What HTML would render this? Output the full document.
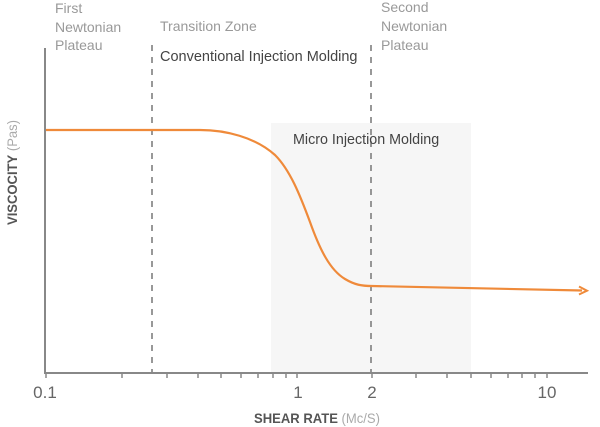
<!DOCTYPE html>
<html><head><meta charset="utf-8"><style>
html,body{margin:0;padding:0;background:#fff;}
svg{display:block;}
text{font-family:"Liberation Sans",sans-serif;}
</style></head><body>
<svg width="600" height="427" viewBox="0 0 600 427" xmlns="http://www.w3.org/2000/svg">
<rect x="0" y="0" width="600" height="427" fill="#fff"/>
<rect x="271" y="123" width="200" height="250" fill="#f6f6f6"/>
<!-- dashed lines -->
<line x1="152" y1="45" x2="152" y2="373" stroke="#777" stroke-width="1.5" stroke-dasharray="6,6"/>
<line x1="371" y1="45" x2="371" y2="373" stroke="#777" stroke-width="1.5" stroke-dasharray="6,6"/>
<!-- axes -->
<line x1="45" y1="48" x2="45" y2="374" stroke="#888" stroke-width="2"/>
<line x1="44" y1="373" x2="588" y2="373" stroke="#888" stroke-width="2"/>
<g stroke="#888" stroke-width="1.5">
<line x1="46" y1="373" x2="46" y2="378"/>
<line x1="122" y1="373" x2="122" y2="378"/>
<line x1="167" y1="373" x2="167" y2="378"/>
<line x1="198" y1="373" x2="198" y2="378"/>
<line x1="221" y1="373" x2="221" y2="378"/>
<line x1="241" y1="373" x2="241" y2="378"/>
<line x1="258" y1="373" x2="258" y2="378"/>
<line x1="273" y1="373" x2="273" y2="378"/>
<line x1="286" y1="373" x2="286" y2="378"/>
<line x1="297" y1="373" x2="297" y2="378"/>
<line x1="372" y1="373" x2="372" y2="378"/>
<line x1="416" y1="373" x2="416" y2="378"/>
<line x1="447" y1="373" x2="447" y2="378"/>
<line x1="471" y1="373" x2="471" y2="378"/>
<line x1="491" y1="373" x2="491" y2="378"/>
<line x1="508" y1="373" x2="508" y2="378"/>
<line x1="522" y1="373" x2="522" y2="378"/>
<line x1="535" y1="373" x2="535" y2="378"/>
<line x1="547" y1="373" x2="547" y2="378"/>
</g>
<!-- curve -->
<path d="M46,130 L200,130 C225,130 255,137 275,155 C290,170 300,195 310,222 C320,250 330,270 345,279 C355,285 362,286 372,286 L582,290.5" fill="none" stroke="#ef8a3a" stroke-width="2.2"/>
<path d="M579,286.5 L587,290.7 L579,294.5" fill="none" stroke="#ef8a3a" stroke-width="2"/>
<!-- annotations -->
<g font-size="14" fill="#999">
<text x="55" y="13">First</text>
<text x="55" y="32">Newtonian</text>
<text x="55" y="50">Plateau</text>
<text x="160" y="31">Transition Zone</text>
<text x="381" y="12">Second</text>
<text x="381" y="31">Newtonian</text>
<text x="381" y="50">Plateau</text>
</g>
<text x="160" y="61" font-size="14.5" fill="#444">Conventional Injection Molding</text>
<text x="293" y="144" font-size="14.3" fill="#444">Micro Injection Molding</text>
<!-- tick labels -->
<g font-size="17" fill="#666" text-anchor="middle">
<text x="45" y="398">0.1</text>
<text x="298" y="398">1</text>
<text x="372" y="398">2</text>
<text x="547" y="398">10</text>
</g>
<text x="254" y="423" font-size="14" textLength="126" lengthAdjust="spacingAndGlyphs"><tspan font-weight="bold" fill="#555">SHEAR RATE</tspan><tspan fill="#aaa"> (Mc/S)</tspan></text>
<text transform="translate(17,225) rotate(-90)" x="0" y="0" font-size="14" textLength="105" lengthAdjust="spacingAndGlyphs"><tspan font-weight="bold" fill="#555">VISCOCITY</tspan><tspan fill="#aaa"> (Pas)</tspan></text>
</svg>
</body></html>
